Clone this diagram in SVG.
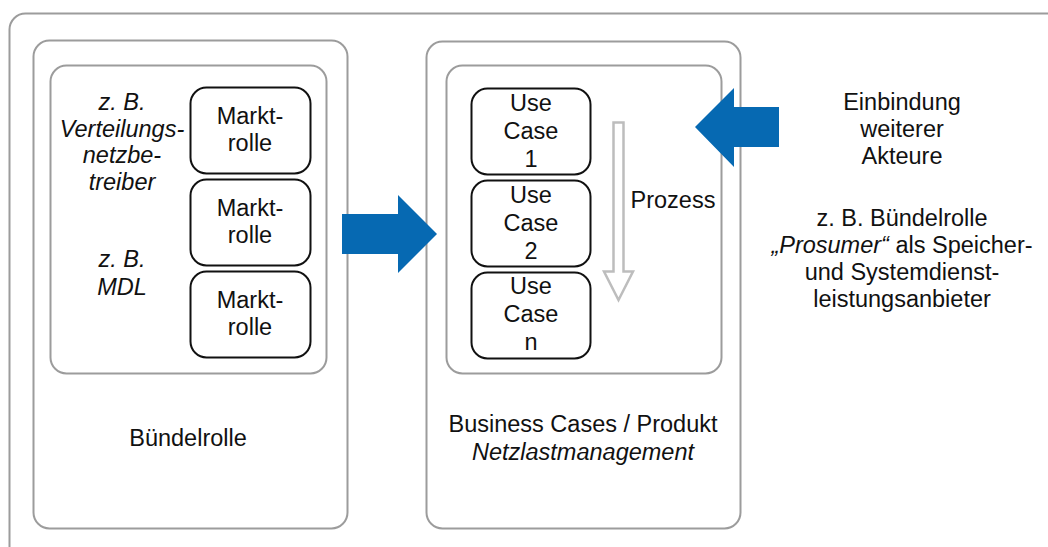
<svg xmlns="http://www.w3.org/2000/svg" width="1048" height="547" viewBox="0 0 1048 547">
  <style>
    .frame { fill: none; stroke: #9c9c9c; stroke-width: 2; }
    .role { fill: #ffffff; stroke: #111111; stroke-width: 2; }
    .blue { fill: #0669b2; stroke: none; }
    .flow { fill: none; stroke: #bdbdbd; stroke-width: 2.5; stroke-linejoin: miter; }
    text { font-family: "Liberation Sans", Arial, Helvetica, sans-serif; font-size: 23.5px; fill: #111111; text-anchor: middle; }
    .it { font-style: italic; }
  </style>

  <!-- outer frame -->
  <rect class="frame" x="9.5" y="13.5" width="1060" height="552" rx="16"/>

  <!-- Bündelrolle -->
  <g id="buendelrolle">
    <rect class="frame" x="33.5" y="40.5" width="314" height="488" rx="16"/>
    <rect class="frame" x="50.5" y="65.5" width="276" height="308" rx="16"/>
    <text x="188" y="446">Bündelrolle</text>
  </g>

  <!-- example actors -->
  <g id="beispiel-vnb">
    <text class="it" x="122" y="110">z. B.</text>
    <text class="it" x="122" y="137">Verteilungs-</text>
    <text class="it" x="122" y="163">netzbe-</text>
    <text class="it" x="122" y="190">treiber</text>
  </g>
  <g id="beispiel-mdl">
    <text class="it" x="122" y="267">z. B.</text>
    <text class="it" x="122" y="295">MDL</text>
  </g>

  <!-- market roles -->
  <g id="marktrolle-1">
    <rect class="role" x="190.5" y="87.5" width="120" height="86" rx="16"/>
    <text x="250" y="124">Markt-</text>
    <text x="250" y="151">rolle</text>
  </g>
  <g id="marktrolle-2">
    <rect class="role" x="190.5" y="179.5" width="120" height="86" rx="16"/>
    <text x="250" y="216">Markt-</text>
    <text x="250" y="243">rolle</text>
  </g>
  <g id="marktrolle-3">
    <rect class="role" x="190.5" y="271.5" width="120" height="86" rx="16"/>
    <text x="250" y="308">Markt-</text>
    <text x="250" y="335">rolle</text>
  </g>

  <!-- Business Cases / Produkt -->
  <g id="business-cases">
    <rect class="frame" x="426.5" y="41.5" width="314" height="487" rx="16"/>
    <rect class="frame" x="446.5" y="65.5" width="275" height="308" rx="16"/>
    <text x="583" y="432">Business Cases / Produkt</text>
    <text class="it" x="583" y="460">Netzlastmanagement</text>
  </g>

  <!-- use cases -->
  <g id="use-case-1">
    <rect class="role" x="471.5" y="88.5" width="119" height="86" rx="16"/>
    <text x="531" y="111">Use</text>
    <text x="531" y="139">Case</text>
    <text x="531" y="167">1</text>
  </g>
  <g id="use-case-2">
    <rect class="role" x="471.5" y="180.5" width="119" height="86" rx="16"/>
    <text x="531" y="203">Use</text>
    <text x="531" y="231">Case</text>
    <text x="531" y="259">2</text>
  </g>
  <g id="use-case-n">
    <rect class="role" x="471.5" y="272.5" width="119" height="86" rx="16"/>
    <text x="531" y="294">Use</text>
    <text x="531" y="322">Case</text>
    <text x="531" y="350">n</text>
  </g>

  <!-- further actors -->
  <g id="weitere-akteure">
    <text x="902" y="110">Einbindung</text>
    <text x="902" y="137">weiterer</text>
    <text x="902" y="164">Akteure</text>
    <text x="902" y="226">z. B. Bündelrolle</text>
    <text x="902" y="253"><tspan class="it">„Prosumer“</tspan> als Speicher-</text>
    <text x="902" y="280">und Systemdienst-</text>
    <text x="902" y="307">leistungsanbieter</text>
  </g>

  <!-- connectors -->
  <g id="connectors">
    <polygon class="blue" points="342,214 398,214 398,195 437,234 398,273 398,254 342,254"/>
    <polygon class="blue" points="779,107 734,107 734,88 695,127 734,167 734,147 779,147"/>
    <polygon class="flow" points="613.5,122.5 623.5,122.5 623.5,271.5 633,271.5 618.5,300 604,271.5 613.5,271.5"/>
    <text x="673" y="208">Prozess</text>
  </g>
</svg>
